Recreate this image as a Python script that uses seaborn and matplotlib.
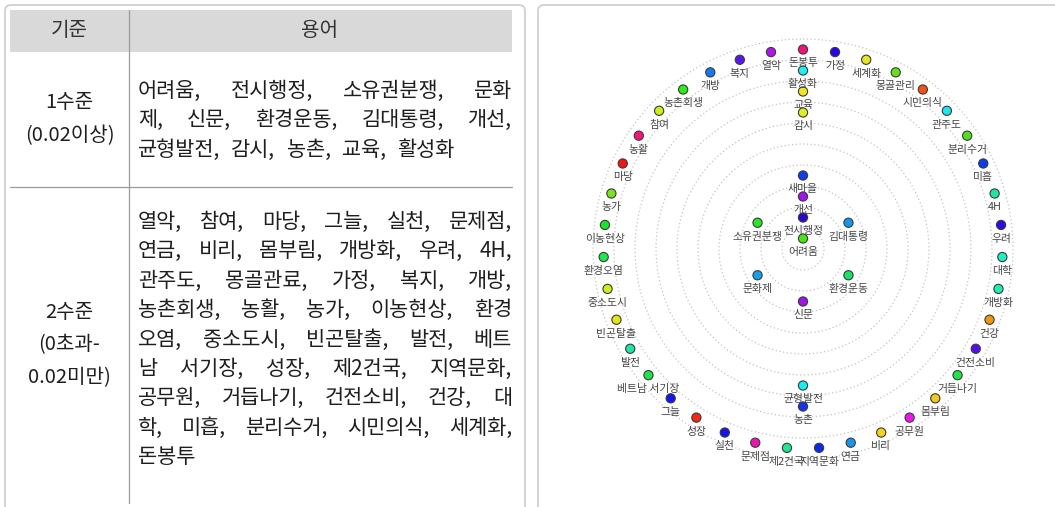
#!/usr/bin/env python3
# -*- coding: utf-8 -*-
'''
Term levels table + concentric term network.
'''
import numpy as np
import pandas as pd
import seaborn as sns
import matplotlib.pyplot as plt
from matplotlib.patches import FancyBboxPatch, Rectangle

sns.set_theme(style="white")
plt.rcParams['font.family'] = ['Noto Sans CJK KR', 'DejaVu Sans']

# ---- table data ----
header = ["기준", "용어"]
level1_name = ["1수준", "(0.02이상)"]
level2_name = ["2수준", "(0초과-", "0.02미만)"]
level1_lines = ["어려움, 전시행정, 소유권분쟁, 문화",
                "제, 신문, 환경운동, 김대통령, 개선,",
                "균형발전, 감시, 농촌, 교육, 활성화"]
level2_lines = ["열악, 참여, 마당, 그늘, 실천, 문제점,",
                "연금, 비리, 몸부림, 개방화, 우려, 4H,",
                "관주도, 몽골관료, 가정, 복지, 개방,",
                "농촌회생, 농활, 농가, 이농현상, 환경",
                "오염, 중소도시, 빈곤탈출, 발전, 베트",
                "남 서기장, 성장, 제2건국, 지역문화,",
                "공무원, 거듭나기, 건전소비, 건강, 대",
                "학, 미흡, 분리수거, 시민의식, 세계화,",
                "돈봉투"]

# ---- network data: ring index -> terms (clockwise from top) ----
ring0 = ["어려움"]
ring1 = ["전시행정"]
ring2 = ["개선", "김대통령", "환경운동", "신문", "문화제", "소유권분쟁"]
ring3 = ["새마을"]
ring6 = ["감시", "균형발전"]
ring7 = ["교육", "농촌"]
ring8 = ["활성화"]
ring9 = ["돈봉투", "가정", "세계화", "몽골관리", "시민의식", "관주도", "분리수거",
         "미흡", "4H", "우려", "대학", "개방화", "건강", "건전소비", "거듭나기",
         "몸부림", "공무원", "비리", "연금", "지역문화", "제2건국", "문제점", "실천",
         "성장", "그늘", "베트남 서기장", "발전", "빈곤탈출", "중소도시", "환경오염",
         "이농현상", "농가", "마당", "농활", "참여", "농촌회생", "개방", "복지", "열악"]
rings = {0: ring0, 1: ring1, 2: ring2, 3: ring3, 6: ring6, 7: ring7, 8: ring8, 9: ring9}

node_colors = {
    "돈봉투": "#f0147a", "가정": "#2a00f0", "세계화": "#e6e61e", "몽골관리": "#64e01e",
    "시민의식": "#f55014", "관주도": "#1ee6f0", "분리수거": "#50e01e", "미흡": "#0a3cf0",
    "4H": "#1ee6a0", "우려": "#2a0af0", "대학": "#1ef0c8", "개방화": "#1ef0b4",
    "건강": "#f5960a", "건전소비": "#5a0af0", "거듭나기": "#1ee646", "몸부림": "#f0c81e",
    "공무원": "#f014f0", "비리": "#f5d21e", "연금": "#1496f0", "지역문화": "#0a28f0",
    "제2건국": "#1ee696", "문제점": "#f014b4", "실천": "#1414f0", "성장": "#f52814",
    "그늘": "#1414f0", "베트남 서기장": "#1ee646", "발전": "#1ee6a0", "빈곤탈출": "#e6e614",
    "중소도시": "#c8f014", "환경오염": "#1ee650", "이농현상": "#14e628", "농가": "#78e61e",
    "마당": "#f51414", "농활": "#f51478", "참여": "#c8f014", "농촌회생": "#28f014",
    "개방": "#1478f0", "복지": "#5a14f0", "열악": "#b414f0",
    "활성화": "#1ef0f0", "교육": "#f0e61e", "감시": "#dcf01e", "새마을": "#0a3cf0",
    "개선": "#a014f0", "전시행정": "#2a0ad2", "어려움": "#46e614", "김대통령": "#1496f0",
    "환경운동": "#14e664", "신문": "#a014e6", "문화제": "#14a0f0", "소유권분쟁": "#28e628",
    "균형발전": "#14f0f0", "농촌": "#1432f0",
}

rows = []
for level, terms in rings.items():
    for i, term in enumerate(terms):
        rows.append({"term": term, "theta": 2 * np.pi * i / len(terms), "r": level + 0.5})
nodes = pd.DataFrame(rows)

W, H = 1055, 507
fig = plt.figure(figsize=(W / 100, H / 100), dpi=100)

# background axes in pixel coordinates
bg = fig.add_axes([0, 0, 1, 1])
bg.set_xlim(0, W)
bg.set_ylim(H, 0)
bg.axis("off")

# panel frames
for x0, x1 in [(5, 525), (538, 1070)]:
    bg.add_patch(FancyBboxPatch((x0, 5), x1 - x0, 540,
                                boxstyle="round,pad=0,rounding_size=6",
                                fc="white", ec="#d0d0d0", lw=1.3))

# table grid
bg.add_patch(Rectangle((10, 10), 502, 42, fc="#d9d9d9", ec="none"))
bg.plot([129, 129], [10, 503], color="#9a9a9a", lw=0.9)
bg.plot([10, 512], [186.5, 186.5], color="#9a9a9a", lw=0.9)

fs = 15
tcol = "#1e1e1e"
bg.text(69.5, 31, header[0], fontsize=14.5, ha="center", va="center", color="#333333")
bg.text(320, 31, header[1], fontsize=14.5, ha="center", va="center", color="#333333")

for names, yc in [(level1_name, 119), (level2_name, 345)]:
    n = len(names)
    for k, s in enumerate(names):
        bg.text(69.5, yc + (k - (n - 1) / 2) * 33, s, fontsize=14.5,
                ha="center", va="center", color=tcol)

renderer = fig.canvas.get_renderer()


def put_line(line, y, justify, x0=138, x1=512):
    words = line.split(" ")
    texts = [bg.text(x0, y, w, fontsize=fs, ha="left", va="center", color=tcol)
             for w in words]
    widths = [t.get_window_extent(renderer).width for t in texts]
    if justify and len(words) > 1:
        gap = (x1 - x0 - sum(widths)) / (len(words) - 1)
    else:
        gap = 11
    x = x0
    for t, w in zip(texts, widths):
        t.set_x(x)
        x += w + gap


for lines, y0 in [(level1_lines, 91), (level2_lines, 222)]:
    for k, line in enumerate(lines):
        put_line(line, y0 + k * 29.4, justify=(k < len(lines) - 1))

# ---- concentric network ----
cx, cy, R = 803, 249, 220.5
ax = fig.add_axes([(cx - R) / W, (H - cy - R) / H, 2 * R / W, 2 * R / H],
                  projection="polar")
ax.set_facecolor("none")
ax.set_theta_zero_location("N")
ax.set_theta_direction(-1)

sns.scatterplot(data=nodes, x="theta", y="r", hue="term", palette=node_colors,
                s=44, edgecolor="#3a3a3a", linewidth=0.8, legend=False,
                ax=ax, zorder=3, clip_on=False)

for _, row in nodes.iterrows():
    ax.annotate(row["term"], (row["theta"], row["r"]), xytext=(0, -10),
                textcoords="offset points", ha="center", va="center",
                fontsize=7.8, color="#454545", zorder=4)

ax.set_ylim(0, 10.5)
ax.set_yticks(np.arange(1, 11))
ax.set_yticklabels([])
ax.set_xticks([])
ax.set_xlabel("")
ax.set_ylabel("")
ax.grid(True, axis="y", color="#c4c4c4", linestyle=(0, (1, 2)), linewidth=0.9)
ax.spines["polar"].set_visible(False)

fig.savefig("out.png", dpi=100)
